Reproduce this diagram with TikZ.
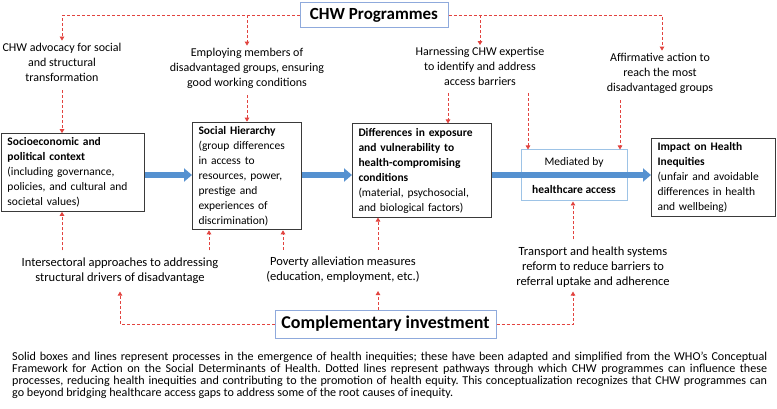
\documentclass[tikz,border=0pt]{standalone}
\usepackage{fontspec}
\setmainfont{Carlito}
\usepackage{tikz}
\usetikzlibrary{arrows.meta,calc,positioning}
\definecolor{ChwRed}{HTML}{E2433F}
\definecolor{ChwBlue}{HTML}{5591D0}
\definecolor{ChwFrame}{HTML}{8FAADC}
\definecolor{ChwPale}{HTML}{9DC3E6}
\definecolor{ChwInk}{HTML}{3A3A3A}
\tikzset{
  >={Triangle[length=4pt,width=4.5pt]},
  redflow/.style={->,line width=0.8pt,dash pattern=on 3pt off 2pt,draw=ChwRed},
  bigflow/.style={-{Triangle[length=8pt,width=13pt]},line width=6pt,draw=ChwBlue},
  mainbox/.style={draw=ChwInk,line width=1pt,fill=white,align=left,
    inner xsep=6pt,inner ysep=4pt,font=\fontsize{11.5}{15}\selectfont},
  midbox/.style={draw=ChwPale,line width=1pt,fill=white,align=center,
    minimum width=106pt,minimum height=51pt,font=\fontsize{11.5}{15}\selectfont},
  labeltext/.style={align=center,inner sep=2pt,font=\fontsize{12}{15}\selectfont},
  lowtext/.style={labeltext,font=\fontsize{12.5}{15}\selectfont},
  headbox/.style={draw=ChwFrame,line width=1pt,fill=white,
    font=\bfseries\fontsize{17}{20}\selectfont}
}

\begin{document}
\frenchspacing
\begin{tikzpicture}[x=1pt,y=-1pt]
  \fill[white] (0,0) rectangle (777,409);
  \useasboundingbox (0,0) rectangle (777,409);
  % programme and investment boxes
  \node[headbox,minimum width=148pt,minimum height=25pt] (chw) at (374,15.5) {CHW Programmes};
  \node[headbox,font=\bfseries\fontsize{18}{22}\selectfont,minimum width=221pt,minimum height=28pt] (compl) at (385.5,324) {Complementary investment};
  % pathway boxes
  \node[mainbox,text width=131pt] (socio) at (73,172.5) {\textbf{Socioeconomic and}\\\textbf{political context}\\(including governance,\\policies, and cultural and\\societal values)};
  \node[mainbox,text width=97pt] (hier) at (247,176) {\textbf{Social Hierarchy}\\(group differences\\in access to\\resources, power,\\prestige and\\experiences of\\discrimination)};
  \node[mainbox,text width=127pt] (diff) at (422,170.5) {\textbf{Differences in exposure}\\\textbf{and vulnerability to}\\\textbf{health-compromising}\\\textbf{conditions}\\(material, psychosocial,\\and biological factors)};
  \node[midbox] (medi) at (574,175.5) {Mediated by\\[13pt]\textbf{healthcare access}};
  \node[mainbox,text width=112pt] (impact) at (713.5,177.5) {\textbf{Impact on Health}\\\textbf{Inequities}\\(unfair and avoidable\\differences in health\\and wellbeing)};
  % intervention labels
  \node[labeltext] (advocacy) at (62,62) {CHW advocacy for social\\and structural\\transformation};
  \node[labeltext] (employ) at (247,68) {Employing members of\\disadvantaged groups, ensuring\\good working conditions};
  \node[labeltext] (harness) at (480,66.5) {Harnessing CHW expertise\\to identify and address\\access barriers};
  \node[labeltext] (affirm) at (660,73) {Affirmative action to\\reach the most\\disadvantaged groups};
  \node[lowtext] (intersect) at (120,270.5) {Intersectoral approaches to addressing\\structural drivers of disadvantage};
  \node[lowtext] (poverty) at (343,270) {Poverty alleviation measures\\(education, employment, etc.)};
  \node[lowtext] (transport) at (593,267) {Transport and health systems\\reform to reduce barriers to\\referral uptake and adherence};
  % solid pathway
  \coordinate (axis) at (0,175);
  \draw[bigflow] (socio.east |- axis) -- (hier.west |- axis);
  \draw[bigflow] (hier.east |- axis) -- (diff.west |- axis);
  \draw[bigflow] (diff.east |- axis) -- (impact.west |- axis);
  % CHW programme pathways
  \draw[redflow] (chw.west) -| (advocacy.north);
  \draw[redflow] (chw.west -| employ.north) -- (employ.north);
  \draw[redflow] (chw.east -| harness.north) -- (harness.north);
  \draw[redflow] (chw.east) -| ([xshift=2pt]affirm.north);
  \draw[redflow] ([yshift=-7pt]advocacy.south) -- (advocacy.south |- socio.north);
  \draw[redflow] ([yshift=-5pt]employ.south) -- (employ.south |- hier.north);
  \draw[redflow] ([xshift=-32pt,yshift=-5pt]harness.south) -- ([xshift=-32pt]harness.south |- diff.north);
  \draw[redflow] ([xshift=48pt,yshift=-5pt]harness.south) -- ([xshift=48pt]harness.south |- medi.north);
  \draw[redflow] ([xshift=-40pt,yshift=-5pt]affirm.south) -- ([xshift=-40pt]affirm.south |- medi.north);
  % complementary investment pathways
  \draw[redflow] ([xshift=-58pt,yshift=5pt]intersect.north) -- ([xshift=-58pt]intersect.north |- socio.south);
  \draw[redflow] ([xshift=89pt,yshift=5pt]intersect.north) -- ([xshift=89pt]intersect.north |- hier.south);
  \draw[redflow] ([xshift=-60pt,yshift=5pt]poverty.north) -- ([xshift=-60pt]poverty.north |- hier.south);
  \draw[redflow] ([xshift=35pt,yshift=5pt]poverty.north) -- ([xshift=35pt]poverty.north |- diff.south);
  \draw[redflow] ([xshift=-20pt,yshift=5pt]transport.north) -- ([xshift=-20pt]transport.north |- medi.south);
  \draw[redflow] (compl.west) -| ([yshift=-6pt]intersect.south);
  \draw[redflow] ([xshift=35pt]poverty.south |- compl.north) -- ([xshift=35pt,yshift=-6pt]poverty.south);
  \draw[redflow] (compl.east) -| ([xshift=-20pt,yshift=-2pt]transport.south);
  % caption
  \node[anchor=north west,text width=755pt,align=justify,inner sep=0pt,font=\fontsize{12.1}{12.2}\selectfont] (caption) at (12,351.5) {Solid boxes and lines represent processes in the emergence of health inequities; these have been adapted and simplified from the WHO’s Conceptual\linebreak Framework for Action on the Social Determinants of Health. Dotted lines represent pathways through which CHW programmes can influence these\linebreak processes, reducing health inequities and contributing to the promotion of health equity. This conceptualization recognizes that CHW programmes can\linebreak go beyond bridging healthcare access gaps to address some of the root causes of inequity.};
\end{tikzpicture}
\end{document}
